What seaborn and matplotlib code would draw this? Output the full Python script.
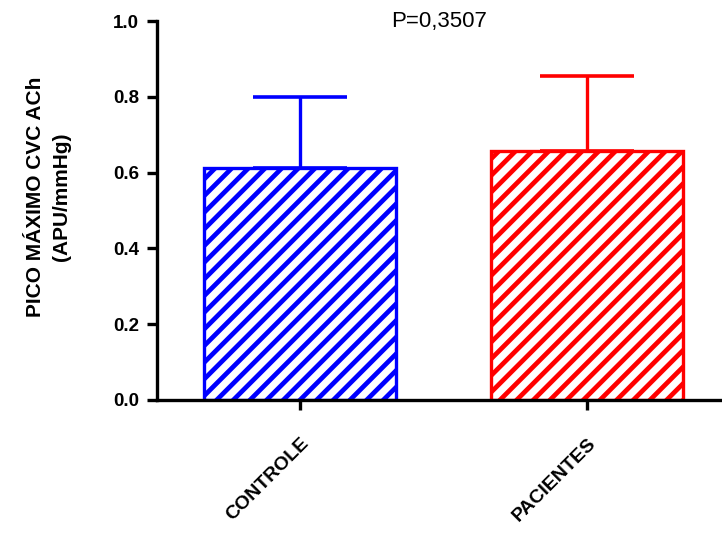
import matplotlib
matplotlib.use("Agg")
import matplotlib.pyplot as plt
import seaborn as sns
import pandas as pd

groups = ["CONTROLE", "PACIENTES"]
means = [0.612, 0.657]
sd = [0.188, 0.199]
colors = ["#0000FF", "#FF0000"]
y_ticks = [0.0, 0.2, 0.4, 0.6, 0.8, 1.0]
y_tick_labels = ["0.0", "0.2", "0.4", "0.6", "0.8", "1.0"]
p_text = "P=0,3507"
y_label = "PICO MÁXIMO CVC ACh\n(APU/mmHg)"

sns.set_style("ticks")
plt.rcParams["font.family"] = ["Liberation Sans", "DejaVu Sans"]
plt.rcParams["hatch.linewidth"] = 3.4
for key in ["text.color", "axes.labelcolor", "xtick.color", "ytick.color",
            "axes.edgecolor"]:
    plt.rcParams[key] = "black"

fig = plt.figure(figsize=(7.22, 5.54), dpi=100)
ax = fig.add_axes([157 / 722, 1 - 400 / 554, 1 - 157 / 722, (400 - 21) / 554])

df = pd.DataFrame({"grupo": groups, "valor": means})
sns.barplot(data=df, x="grupo", y="valor", hue="grupo", palette=colors,
            width=0.67, legend=False, errorbar=None, ax=ax)

for patch, c in zip(ax.patches, colors):
    patch.set_facecolor("white")
    patch.set_edgecolor(c)
    patch.set_linewidth(2.4)
    patch.set_hatch("//")
    patch.set_zorder(2)

# upper-only SD whiskers
for i, (m, e, c) in enumerate(zip(means, sd, colors)):
    ax.errorbar(i, m, yerr=[[0], [e]], color=c, elinewidth=2.4,
                capsize=34, capthick=2.6, zorder=1)

ax.set_xlim(-0.5, 1.47)
ax.set_ylim(0, 1.0)
ax.set_yticks(y_ticks)
ax.set_yticklabels(y_tick_labels, fontsize=13.5, fontweight="bold")
ax.set_xticks(range(len(groups)))
ax.set_xticklabels(groups, fontsize=14, fontweight="bold", rotation=45,
                   ha="right", rotation_mode="anchor")
ax.set_xlabel("")
ax.set_ylabel(y_label, fontsize=15, fontweight="bold", linespacing=1.5)
ax.yaxis.set_label_coords(-0.152, 0.535)

for s in ["left", "bottom"]:
    ax.spines[s].set_linewidth(2.4)
for s in ["top", "right"]:
    ax.spines[s].set_visible(False)
ax.tick_params(axis="both", width=2.4, length=7, pad=6)
ax.tick_params(axis="x", pad=18)

ax.text(0.5, 1.0, p_text, transform=ax.transAxes, ha="center", va="center",
        fontsize=16)

fig.savefig("out.png", dpi=100)
